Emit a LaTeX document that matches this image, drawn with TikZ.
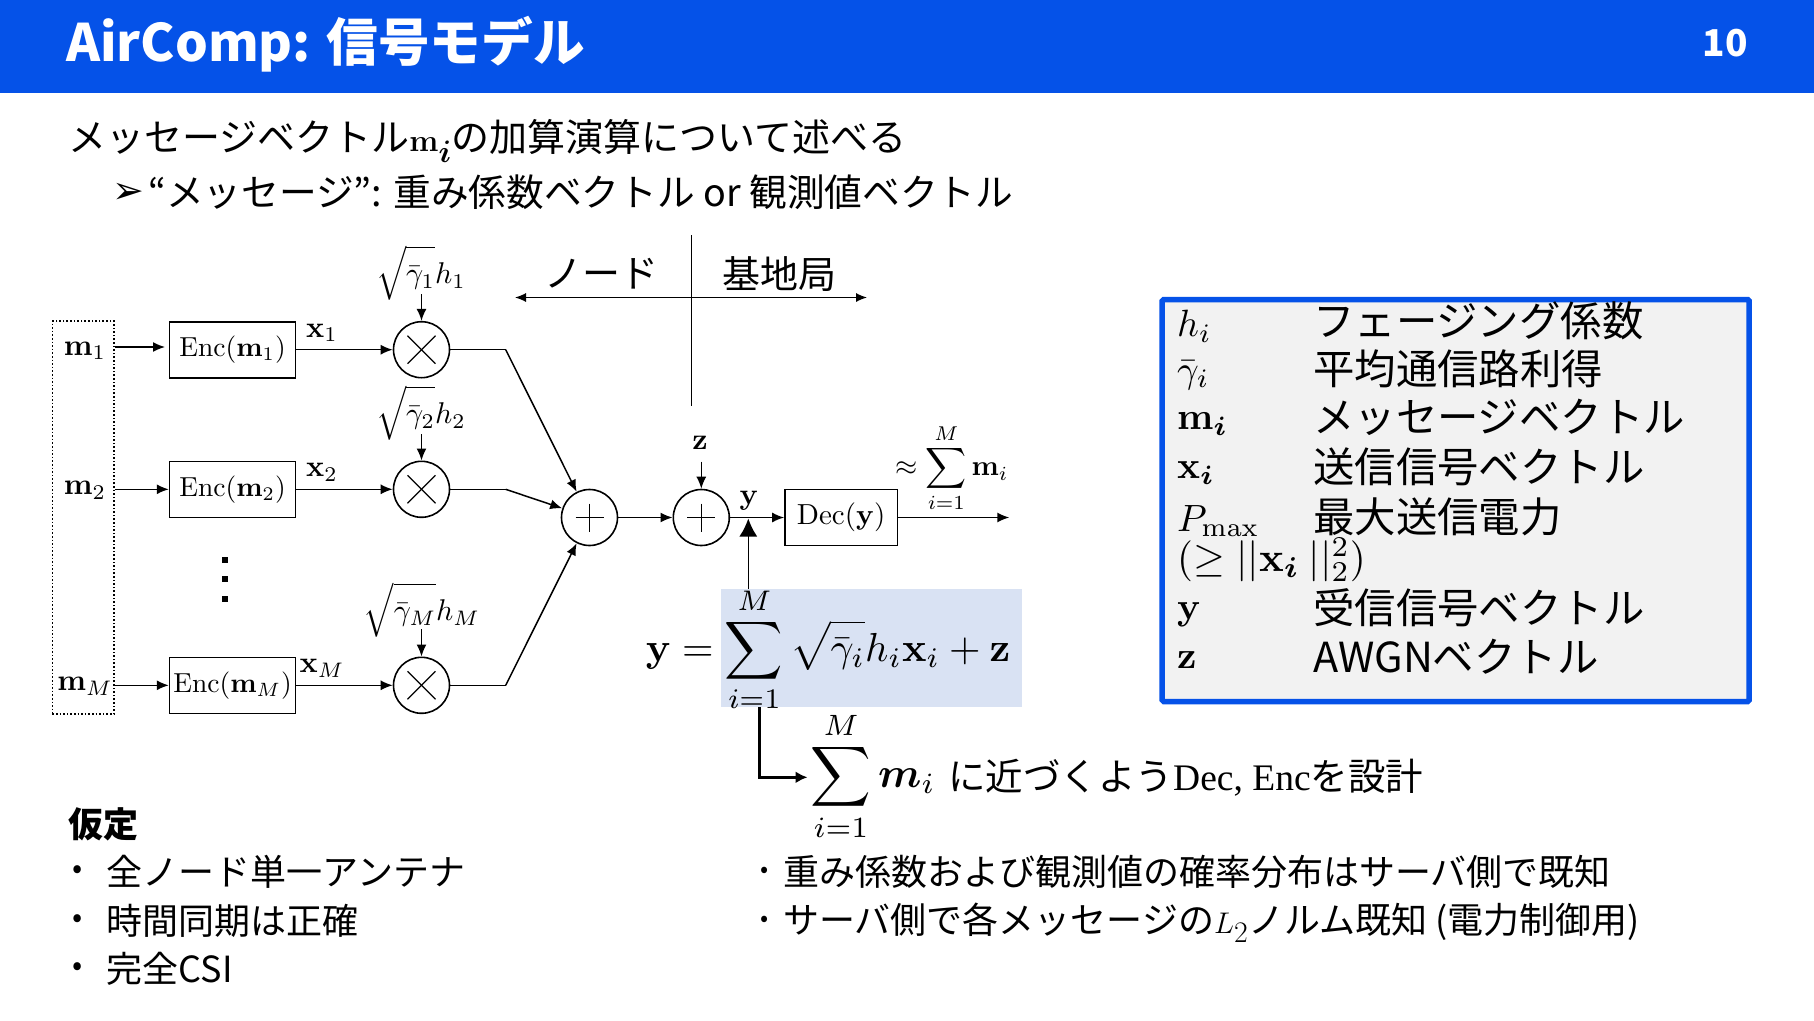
\documentclass[tikz,border=0pt]{standalone}
\usepackage{amsmath}
\usepackage{amssymb}
\usepackage[no-math]{fontspec}
\setmainfont{Noto Sans CJK JP}
\newfontfamily\dingfont{DejaVu Sans}
\newfontfamily\serifpart{Liberation Serif}
\usetikzlibrary{positioning, arrows.meta, calc}

\definecolor{slideblue}{RGB}{5,82,232}
\definecolor{sumblue}{RGB}{217,226,243}
\definecolor{legendgray}{RGB}{242,242,242}

\newcommand{\mathlbl}[2][3]{\scalebox{#1}{$#2$}}
\newcommand{\gainroot}[1]{\sqrt{\rule[-3.5pt]{0pt}{13pt}\bar{\gamma}_{#1}}}

\tikzset{
    sigline/.style={line width=1.5pt, -{Latex[length=12pt,width=10pt]}},
    plainline/.style={line width=1.5pt},
    blockbox/.style={draw, line width=1.6pt, inner sep=0pt, minimum height=56pt},
    mulnode/.style={draw, circle, line width=1.6pt, inner sep=0pt, minimum size=56pt, path picture={
        \draw[line width=1.2pt] ($(path picture bounding box.center)+(-14,-14)$) -- ++(28,28);
        \draw[line width=1.2pt] ($(path picture bounding box.center)+(-14,14)$) -- ++(28,-28);}},
    addnode/.style={draw, circle, line width=1.6pt, inner sep=0pt, minimum size=56pt, path picture={
        \draw[line width=1.2pt] ($(path picture bounding box.center)+(-14,0)$) -- ++(28,0);
        \draw[line width=1.2pt] ($(path picture bounding box.center)+(0,-14)$) -- ++(0,28);}},
    mathnode/.style={inner sep=0pt},
    bodytext/.style={inner sep=0pt, anchor=west, font=\fontsize{36}{40}\selectfont},
    headtext/.style={inner sep=0pt, anchor=west, font=\fontsize{38}{42}\selectfont},
    legendtext/.style={inner sep=0pt, anchor=west, font=\fontsize{41.4}{44}\selectfont},
}

\begin{document}
\begin{tikzpicture}[x=1pt, y=-1pt]
    \useasboundingbox (0,0) rectangle (1814,1020);

    % title bar
    \node[fill=slideblue, inner sep=0pt, minimum width=1814pt, minimum height=93pt, anchor=north west] (titlebar) at (0,0) {};
    \node[inner sep=0pt, anchor=west, text=white, font=\fontsize{51.6}{56}\selectfont\bfseries] (titletext) at (66,44) {AirComp: 信号モデル};
    \node[inner sep=0pt, text=white, font=\fontsize{37}{42}\selectfont\bfseries] (pagenum) at (1725,43) {10};

    % heading lines
    \node[headtext] (headone) at (68,141) {メッセージベクトル\mathlbl[1.25]{\mathbf{m}_{\boldsymbol{i}}}の加算演算について述べる};
    \node[inner sep=0pt, font=\fontsize{38}{40}\selectfont\dingfont] (headmark) at (128,193) {➢};
    \node[headtext, font=\fontsize{37.7}{42}\selectfont] (headtwo) at (148,192) {“メッセージ”: 重み係数ベクトル or 観測値ベクトル};

    % node side
    \node[draw, dotted, line width=1.6pt, inner sep=0pt, minimum width=61.5pt, minimum height=393pt] (msgbox) at (83.2,517.6) {};
    \foreach \i/\y in {1/349.7,2/489.3,M/685.3} {
        \node[mathnode] (msg\i) at (85,\y+1) {\mathlbl{\mathbf{m}_{\i}}};
        \node[blockbox, minimum width=126pt] (enc\i) at (232.6,\y) {\mathlbl[2.75]{\mathrm{Enc}(\mathbf{m}_{\i})}};
        \node[mulnode] (mul\i) at (421.5,\y) {};
        \coordinate (bend\i) at (505.7,\y);
        \node[mathnode] (sig\i) at (322,\y-17) {\mathlbl{\mathbf{x}_{\i}}};
        \draw[sigline] (enc\i) -- (mul\i);
        \draw[plainline] (mul\i) -- (bend\i);
    }
    \coordinate (msgtap) at (114.6,347);
    \coordinate (msgend) at (165,347);
    \draw[sigline] (msgtap) -- (msgend);
    \draw[sigline] (msgbox.east |- enc2) -- (enc2);
    \draw[sigline] (msgbox.east |- encM) -- (encM);

    \node[mathnode] (gain1) at (421,273) {\mathlbl{\gainroot{1}h_1}};
    \node[mathnode] (gain2) at (421,413) {\mathlbl{\gainroot{2}h_2}};
    \node[mathnode] (gainM) at (422,610) {\mathlbl{\gainroot{M}h_M}};
    \coordinate (gaintop1) at (421.5,294);
    \coordinate (gaintop2) at (421.5,434);
    \coordinate (gaintopM) at (421.5,629);
    \foreach \i in {1,2,M} \draw[sigline] (gaintop\i) -- (mul\i);

    \foreach \x in {560,579,599} \fill (222,\x-3) rectangle +(6,6);

    \node[addnode] (addone) at (589.5,517.5) {};
    \draw[sigline] (bend1) -- (addone);
    \draw[sigline] (bend2) -- (addone);
    \draw[sigline] (bendM) -- (addone);

    % boundary cross
    \coordinate (crosstop) at (691.3,235);
    \coordinate (crossbot) at (691.3,406);
    \coordinate (crossleft) at (515,297.5);
    \coordinate (crossright) at (867,297.5);
    \draw[plainline, line width=1.1pt] (crosstop) -- (crossbot);
    \draw[line width=1.1pt, {Latex[length=11pt,width=9pt]}-{Latex[length=11pt,width=9pt]}] (crossleft) -- (crossright);
    \node[inner sep=0pt, font=\fontsize{38}{40}\selectfont] (nodeside) at (601,274) {ノード};
    \node[inner sep=0pt, font=\fontsize{38}{40}\selectfont] (baseside) at (779,274) {基地局};

    % receiver
    \node[addnode] (addtwo) at (701.3,517.5) {};
    \node[blockbox, minimum width=112.5pt] (dec) at (841.2,517.5) {\mathlbl[2.9]{\mathrm{Dec}(\mathbf{y})}};
    \coordinate (outend) at (1009.3,517.5);
    \coordinate (noisetop) at (701.3,461.5);
    \node[mathnode] (noise) at (700,443) {\mathlbl{\mathbf{z}}};
    \node[mathnode] (rxlabel) at (749,501) {\mathlbl{\mathbf{y}}};
    \draw[sigline] (addone) -- (addtwo);
    \draw[sigline] (addtwo) -- (dec);
    \draw[sigline] (dec) -- (outend);
    \draw[sigline] (noisetop) -- (addtwo);
    \node[mathnode] (approx) at (952,468) {\mathlbl[2.85]{\displaystyle\approx\sum_{i=1}^{M}\mathbf{m}_i}};

    % received signal
    \node[fill=sumblue, inner sep=0pt, minimum width=300.7pt, minimum height=118.3pt] (sumbox) at (871.3,648) {};
    \node[mathnode] (rxformula) at (828,650) {\mathlbl[4.05]{\displaystyle\mathbf{y}=\sum_{i=1}^{M}\sqrt{\rule{0pt}{7.5pt}\bar{\gamma}_i}h_i\mathbf{x}_i+\mathbf{z}}};
    \coordinate (tapfoot) at (748.3,589);
    \coordinate (taphead) at (748.3,518.5);
    \draw[line width=1.5pt, -{Latex[length=18pt,width=18pt]}] (tapfoot) -- (taphead);

    \coordinate (lowfoot) at (759.3,707.3);
    \coordinate (lowtip) at (807.5,777.3);
    \draw[line width=2.6pt, -{Latex[length=12pt,width=12pt]}] (lowfoot) |- (lowtip);
    \node[mathnode] (lowsum) at (873,776) {\mathlbl[4.2]{\displaystyle\sum_{i=1}^{M}\boldsymbol{m}_i}};
    \node[bodytext, font=\fontsize{37.5}{42}\selectfont] (lowtext) at (948,778) {に近づくよう{\serifpart Dec, Enc}を設計};

    % legend
    \node[draw=slideblue, fill=legendgray, line width=5.5pt, rounded corners=1.5pt, inner sep=0pt, minimum width=587pt, minimum height=402pt] (legend) at (1455.7,500.5) {};
    \foreach \n/\y/\ys/\sym/\txt in {
        a/321/326/{h_i}/フェージング係数,
        b/369/375/{\bar{\gamma}_i}/平均通信路利得,
        c/417/424/{\mathbf{m}_{\boldsymbol{i}}}/メッセージベクトル,
        d/467/473/{\mathbf{x}_{\boldsymbol{i}}}/送信信号ベクトル,
        e/517/521/{P_{\mathrm{max}}}/最大送信電力,
        g/608/615/{\mathbf{y}}/受信信号ベクトル,
        h/657/660/{\mathbf{z}}/AWGNベクトル} {
        \node[inner sep=0pt, anchor=west] (sym\n) at (1177,\ys) {\mathlbl[3.8]{\sym}};
        \node[legendtext] (txt\n) at (1313,\y) {\txt};
    }
    \node[inner sep=0pt, anchor=west] (symf) at (1177,560) {\mathlbl[4.1]{(\geq ||\mathbf{x}_{\boldsymbol{i}}\ ||_2^2)}};

    % assumptions
    \node[bodytext, font=\fontsize{35}{38}\selectfont\bfseries] (assume) at (68,824) {仮定};
    \foreach \n/\y/\txt in {a/872/全ノード単一アンテナ, b/921/時間同期は正確, c/969/完全CSI} {
        \node[inner sep=0pt, font=\fontsize{30}{32}\selectfont] (dot\n) at (78,\y) {•};
        \node[bodytext] (item\n) at (106.5,\y) {\txt};
    }
    \node[inner sep=0pt, font=\fontsize{24}{26}\selectfont] (sdota) at (765,872) {•};
    \node[bodytext] (sidea) at (783,872) {重み係数および観測値の確率分布はサーバ側で既知};
    \node[inner sep=0pt, font=\fontsize{24}{26}\selectfont] (sdotb) at (765,921) {•};
    \node[bodytext] (sideb) at (783,923) {サーバ側で各メッセージの\mathlbl[1.2]{L_2}ノルム既知 (電力制御用)};
\end{tikzpicture}
\end{document}
